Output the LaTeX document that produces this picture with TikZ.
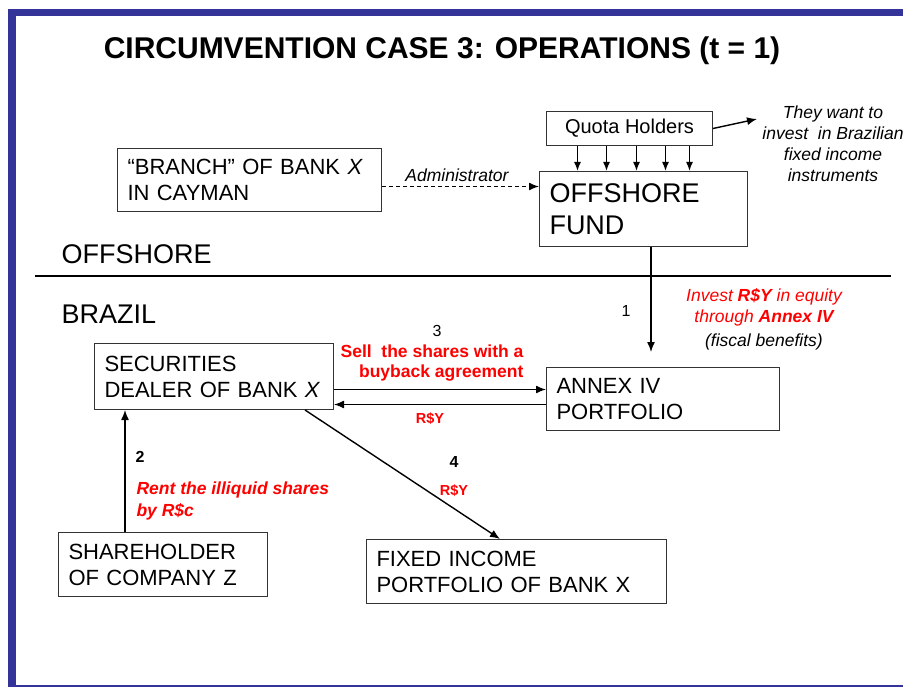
\documentclass[tikz,border=0pt]{standalone}
\usepackage{fontspec}
\setmainfont{Liberation Sans}
\usetikzlibrary{arrows.meta,positioning}
\definecolor{slideblue}{RGB}{51,51,153}
\tikzset{
	>={Latex[length=10pt,width=8pt]},
	box/.style={
		rectangle,
		draw=black!80, line width=1pt,
		inner xsep=10pt, inner ysep=0pt,
		font=\fontsize{22}{26}\selectfont,
		align=left,
		anchor=north west},
	bigbox/.style={box, font=\fontsize{27}{32}\selectfont},
	flow/.style={draw, ->, line width=1.4pt},
	note/.style={font=\fontsize{17.5}{21}\selectfont\itshape, align=center},
	redlabel/.style={font=\fontsize{17.5}{20}\selectfont\bfseries, text=red},
	steplabel/.style={font=\fontsize{16}{18}\selectfont},
	region/.style={font=\fontsize{27}{32}\selectfont, anchor=west},
}

\begin{document}
\begin{tikzpicture}[x=1pt, y=-1pt]
	\useasboundingbox (0,0) rectangle (903,687);
	% slide frame
	\fill[slideblue] (8,9) rectangle (903,16);
	\fill[slideblue] (8,9) rectangle (16,687);
	\draw[slideblue, line width=2pt] (8,686) -- (903,686);
	\node[font=\fontsize{30}{34}\selectfont\bfseries] (title) at (442,51) {CIRCUMVENTION CASE 3: OPERATIONS (t = 1)};

	% offshore side
	\node[box, font=\fontsize{20}{22}\selectfont, minimum width=166, minimum height=34, align=center] (quota) at (546,111) {Quota Holders};
	\node[note, anchor=north] (want) at (833,102) {They want to\\invest\ \ in Brazilian\\fixed income\\instruments};
	\node[bigbox, minimum width=208, minimum height=75, text width=188] (fund) at (539,171) {OFFSHORE\\FUND};
	\node[box, minimum width=264, minimum height=63, text width=244] (branch) at (117,148) {``BRANCH'' OF BANK \textit{X}\\IN CAYMAN};
	\node[region] (offshore) at (58,254) {OFFSHORE};
	\node[region] (brazil) at (58,314) {BRAZIL};
	\draw[line width=1.3pt] (35,276) -- (891,276);

	% brazil side
	\node[box, minimum width=239, minimum height=66, text width=219] (dealer) at (94,343) {SECURITIES\\DEALER OF BANK \textit{X}};
	\node[box, minimum width=233, minimum height=63, text width=213] (annex) at (546,367) {ANNEX IV\\PORTFOLIO};
	\node[box, minimum width=209, minimum height=64, text width=189] (holder) at (58,532) {SHAREHOLDER\\OF COMPANY Z};
	\node[box, minimum width=300, minimum height=64, text width=280] (fixed) at (366,539) {FIXED INCOME\\PORTFOLIO OF BANK X};

	% connectors
	\coordinate (wantin) at (757,119);
	\draw[flow] (quota.east) -- (wantin);
	\foreach \d in {-52,-23,7,36,60} {
		\coordinate (q) at ([xshift=\d pt]quota.south);
		\draw[flow, -{Latex[length=9pt,width=7pt]}] (q) -- (fund.north -| q);
	}
	\coordinate (admin) at ([yshift=-6.5pt]branch.east);
	\draw[flow, dash pattern=on 4pt off 3pt] (admin) -- (fund.west |- admin);
	\node[note, anchor=south] (adminlabel) at (457,185) {Administrator};

	\coordinate (annexin) at (651,352);
	\draw[flow] (fund.south -| annexin) -- (annexin);
	\node[steplabel] (one) at (626,311) {1};
	\node[note, text=red, anchor=north] (invest) at (764,285) {Invest \textbf{R\$Y} in equity\\through \textbf{Annex IV}};
	\node[note, anchor=north] (fiscal) at (764,330) {(fiscal benefits)};

	\coordinate (sell) at ([yshift=-13pt]dealer.east);
	\draw[flow] (sell) -- (sell -| annex.west);
	\coordinate (pay) at ([yshift=-28pt]dealer.east);
	\draw[flow] (pay -| annex.west) -- (pay);
	\node[steplabel] (three) at (437,331) {3};
	\node[redlabel, align=right, anchor=north east] (selllabel) at (527,341) {Sell\ \ the shares with a\\buyback agreement};
	\node[redlabel, font=\fontsize{14.5}{16}\selectfont\bfseries] (paylabel) at (430,419) {R\$Y};

	\coordinate (rent) at (125,0);
	\draw[flow] (holder.north -| rent) -- (dealer.south -| rent);
	\node[steplabel, font=\fontsize{16}{18}\selectfont\bfseries] (two) at (140,457) {2};
	\node[redlabel, font=\fontsize{17.5}{22}\selectfont\bfseries\itshape, align=left, anchor=north west] (rentlabel) at (133,478) {Rent the illiquid shares\\by R\$c};

	\coordinate (d4) at (305,0);
	\coordinate (f4) at (500,0);
	\draw[flow] (dealer.south -| d4) -- (fixed.north -| f4);
	\node[steplabel, font=\fontsize{16}{18}\selectfont\bfseries] (four) at (454,462) {4};
	\node[redlabel, font=\fontsize{14.5}{16}\selectfont\bfseries] (fixedlabel) at (454,491) {R\$Y};
\end{tikzpicture}
\end{document}
